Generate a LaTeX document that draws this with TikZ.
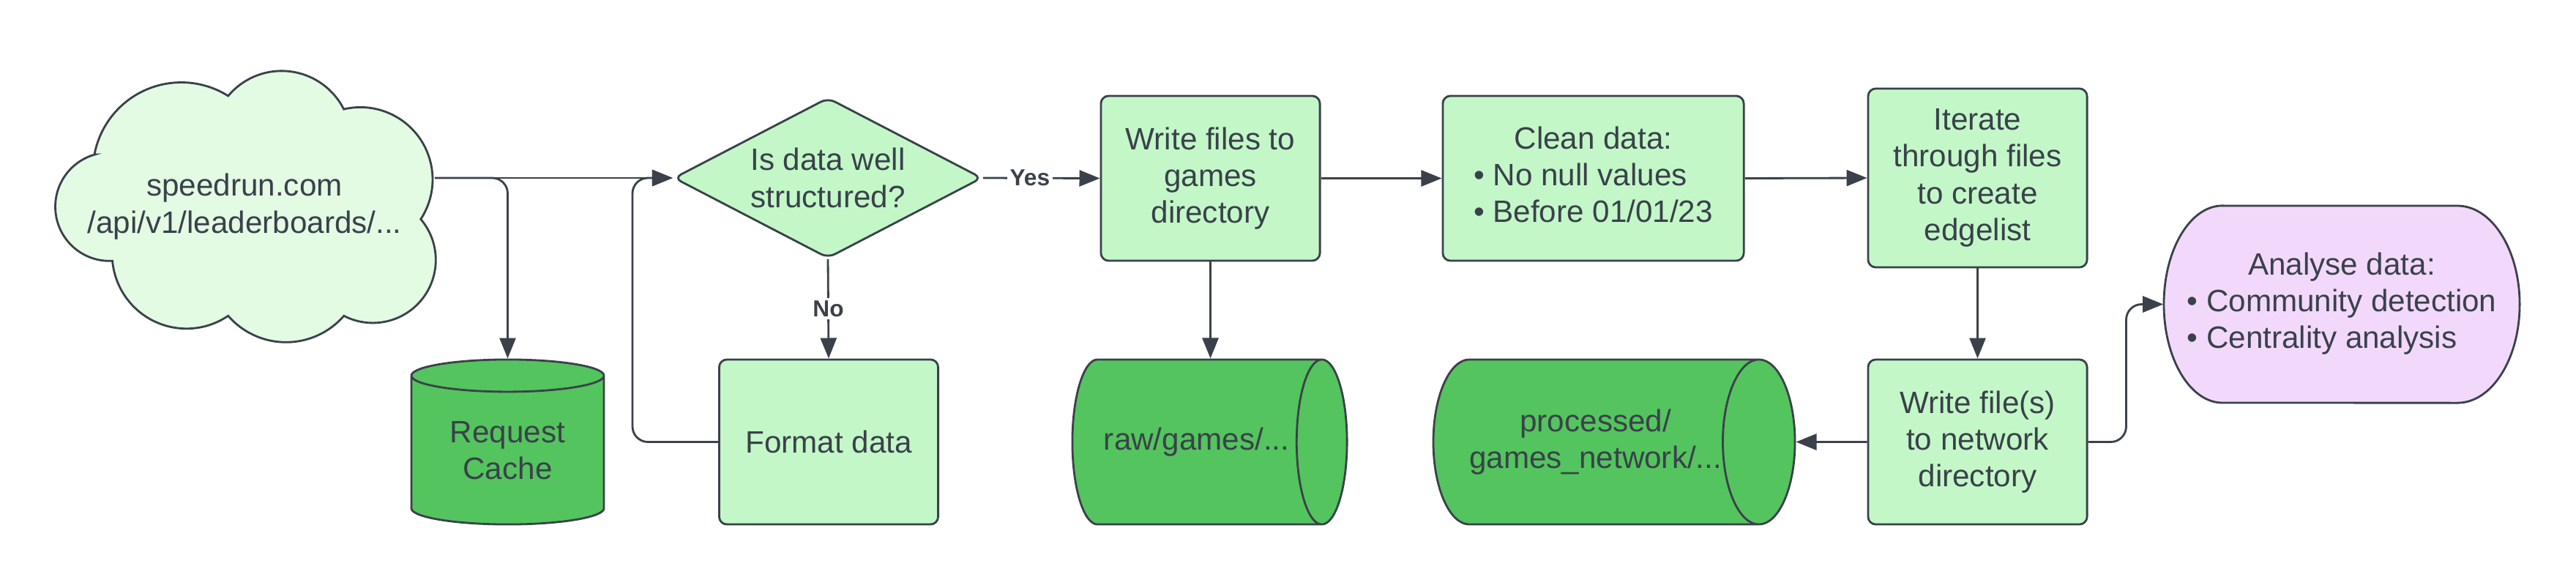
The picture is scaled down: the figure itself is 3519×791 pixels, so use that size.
\documentclass[tikz,border=0pt]{standalone}
\usepackage{fontspec}
\setmainfont{Liberation Sans}
\usetikzlibrary{shapes.geometric,arrows.meta}
\definecolor{cloudgreen}{HTML}{E3FAE3}
\definecolor{boxgreen}{HTML}{C3F7C8}
\definecolor{dbgreen}{HTML}{54C45E}
\definecolor{lilac}{HTML}{F2D9FC}
\definecolor{ink}{HTML}{3A414A}
\begin{document}
\begin{tikzpicture}[x=0.01cm,y=-0.01cm,
	every node/.style={font=\fontsize{12}{14.3}\selectfont, text=ink},
	box/.style={draw=ink, line width=0.8pt, fill=boxgreen, rounded corners=3pt, minimum width=2.99cm, minimum height=2.25cm, align=center, inner sep=2pt},
	db/.style={draw=ink, line width=0.8pt, shape=cylinder, cylinder uses custom fill, cylinder body fill=dbgreen, cylinder end fill=dbgreen, align=center, inner sep=0pt, anchor=shape center},
	flow/.style={draw=ink, line width=0.8pt, -{Triangle[length=0.28cm,width=0.22cm]}},
	tag/.style={font=\fontsize{9}{10}\selectfont\bfseries, fill=white, inner sep=1pt}]
	\useasboundingbox (0,0) rectangle (3519,791);
	% source cloud
	\draw [draw=ink, fill=cloudgreen, line width=0.8pt] (129,211) arc [start angle=169.4, end angle=57.9, radius=1.206cm]
		arc [start angle=140.1, end angle=26.8, radius=0.951cm]
		arc [start angle=103.3, end angle=-33.3, radius=0.986cm]
		arc [start angle=40.4, end angle=-117.4, radius=0.859cm]
		arc [start angle=-41, end angle=-139, radius=1.047cm]
		arc [start angle=-55.9, end angle=-174.9, radius=1.015cm]
		arc [start angle=273.1, end angle=105.7, radius=0.74cm] -- cycle;
	\node [minimum width=5.18cm, minimum height=3.7cm, align=center, inner sep=0pt] (src) at (334,282) {speedrun.com\\/api/v1/leaderboards/...};
	% check
	\node [diamond, aspect=1.92, draw=ink, fill=boxgreen, line width=0.8pt, rounded corners=3pt, minimum width=4.21cm, minimum height=2.19cm, inner sep=0pt, align=center] (dec) at (1131,243) {Is data well\\structured?};
	\node [db, shape border rotate=90, aspect=0.28, minimum width=2.63cm, minimum height=2.25cm] (cache) at (693.5,603.5) {Request\\Cache};
	\node [box] (fmt) at (1132,603.5) {Format data};
	% files
	\node [box] (wr) at (1653.5,243.5) {Write files to\\games\\directory};
	\node [db, aspect=1.75, minimum width=2.25cm, minimum height=3.75cm] (raw) at (1652.5,603.5) {raw/games/...};
	\node [box, minimum width=4.11cm] (clean) at (2176.5,243.5) {\begin{tabular}{@{}l@{}}\multicolumn{1}{@{}c@{}}{Clean data:}\\ \textbullet\ No null values\\ \textbullet\ Before 01/01/23\end{tabular}};
	\node [box, minimum height=2.44cm] (iter) at (2701.5,243) {Iterate\\through files\\to create\\edgelist};
	\node [box] (wnet) at (2701.5,603.5) {Write file(s)\\to network\\directory};
	\node [db, aspect=1.1, minimum width=2.25cm, minimum height=4.88cm] (proc) at (2205,603.5) {processed/\\games\_network/...};
	% analysis
	\draw [draw=ink, fill=lilac, line width=0.8pt] (3036,281) -- (3357,281) arc [start angle=90, end angle=-90, x radius=0.85cm, y radius=1.345cm] -- (3036,550) arc [start angle=270, end angle=90, x radius=0.8cm, y radius=1.345cm] -- cycle;
	\node [minimum width=4.86cm, minimum height=2.69cm] (ana) at (3199,415.5) {\begin{tabular}{@{}l@{}}\multicolumn{1}{@{}c@{}}{Analyse data:}\\ \textbullet\ Community detection\\ \textbullet\ Centrality analysis\end{tabular}};
	% connectors
	\coordinate (loop) at (864,243);
	\draw [flow] (src.east |- dec.west) -- (dec.west);
	\draw [flow, rounded corners=6pt] (src.east |- dec.west) -| (cache.north);
	\draw [flow, rounded corners=6pt] (fmt.west) -| (loop) -- (dec.west);
	\draw [flow] (dec.south) -- node [tag] {No} (fmt.north);
	\draw [flow] (dec.east) -- node [tag, pos=0.4] {Yes} (wr.west);
	\draw [flow] (wr.south) -- (wr.south |- raw.north);
	\draw [flow] (wr.east) -- (clean.west);
	\draw [flow] (clean.east) -- (iter.west);
	\draw [flow] (iter.south) -- (wnet.north);
	\draw [flow] (wnet.west) -- (proc.east);
	\draw [flow, rounded corners=6pt] (wnet.east) -- ++(52,0) |- (ana.west);
\end{tikzpicture}
\end{document}
